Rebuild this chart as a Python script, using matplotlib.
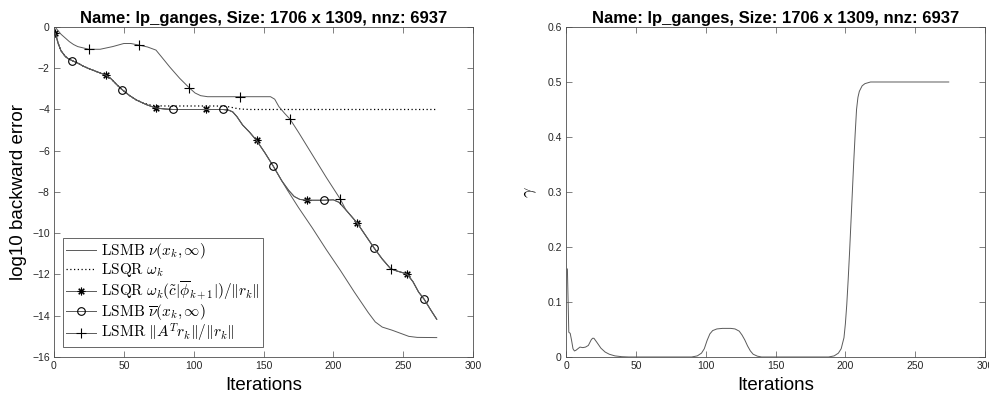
import numpy as np
import matplotlib
matplotlib.use("Agg")
import matplotlib.pyplot as plt

plt.rcParams['font.family'] = ['Liberation Sans', 'DejaVu Sans']
plt.rcParams['mathtext.fontset'] = 'cm'

title = "Name: lp_ganges, Size: 1706 x 1309, nnz: 6937"

# ---- left panel: backward errors (log10) ----
# LSQR omega_k*(c|phi|)/||r|| and LSMB nu-bar share this curve
it_b = [1, 3, 5, 8, 10, 13, 17, 21, 25, 30, 37, 41, 45, 49, 54, 59, 66, 73, 80, 85,
        109, 121, 125, 128, 131, 135, 140, 145, 151, 157, 163, 168, 172, 176, 181,
        193, 200, 204, 209, 217, 223, 229, 235, 241, 245, 250, 253, 257, 261, 265,
        270, 274]
val_b = [-0.3, -0.8, -1.15, -1.42, -1.53, -1.63, -1.75, -1.9, -2.02, -2.15, -2.33,
         -2.52, -2.8, -3.05, -3.32, -3.54, -3.76, -3.93, -3.98, -4.0,
         -4.0, -4.0, -4.03, -4.12, -4.35, -4.75, -5.1, -5.5, -6.1, -6.75, -7.45,
         -7.92, -8.22, -8.36, -8.4,
         -8.4, -8.38, -8.5, -8.87, -9.5, -10.1, -10.7, -11.25, -11.72, -11.82,
         -11.92, -12.0, -12.35, -12.85, -13.2, -13.75, -14.17]

# LSMB nu(x_k, inf): same as above until ~167, then keeps falling
it_nu = [1, 3, 5, 8, 10, 13, 17, 21, 25, 30, 37, 41, 45, 49, 54, 59, 66, 73, 80, 85,
         109, 121, 125, 128, 131, 135, 140, 145, 151, 157, 163, 167, 175, 185, 195,
         205, 215, 225, 230, 235, 242, 248, 254, 260, 274]
val_nu = [-0.3, -0.8, -1.15, -1.42, -1.53, -1.63, -1.75, -1.9, -2.02, -2.15, -2.33,
          -2.52, -2.8, -3.05, -3.32, -3.54, -3.76, -3.93, -3.98, -4.0,
          -4.0, -4.0, -4.03, -4.12, -4.35, -4.75, -5.1, -5.5, -6.1, -6.75, -7.45,
          -7.9, -8.75, -9.75, -10.8, -11.8, -12.85, -13.85, -14.3, -14.55, -14.7,
          -14.85, -15.0, -15.05, -15.06]

# LSQR omega_k (dotted)
it_om = [1, 3, 5, 8, 10, 13, 17, 21, 25, 30, 37, 41, 45, 49, 54, 59, 63, 68, 73, 80,
         115, 122, 126, 130, 134, 140, 274]
val_om = [-0.3, -0.8, -1.15, -1.42, -1.53, -1.63, -1.75, -1.9, -2.02, -2.15, -2.33,
          -2.52, -2.8, -3.05, -3.32, -3.54, -3.66, -3.77, -3.82, -3.83,
          -3.83, -3.84, -3.88, -3.94, -3.98, -4.0, -4.0]

# LSMR ||A^T r|| / ||r||
it_lsmr = [1, 5, 11, 14, 17, 25, 33, 42, 50, 55, 61, 67, 73, 77, 83, 90, 97, 101, 105,
           110, 133, 155, 158, 161, 165, 169, 175, 185, 195, 205, 209, 217, 223, 229,
           235, 241, 245, 250, 253, 257, 261, 265, 270, 274]
val_lsmr = [-0.02, -0.35, -0.71, -0.85, -0.95, -1.08, -1.08, -0.95, -0.8, -0.8, -0.88,
            -0.97, -1.12, -1.45, -1.95, -2.49, -2.96, -3.2, -3.33,
            -3.38, -3.38, -3.38, -3.5, -3.86, -4.18, -4.47, -5.1, -6.2, -7.3, -8.35,
            -8.87, -9.5, -10.1, -10.7, -11.25, -11.72, -11.82, -11.92, -12.0, -12.35,
            -12.85, -13.2, -13.75, -14.17]

mark_star = [1, 37, 73, 109, 145, 181, 217, 253]
mark_circ = [13, 49, 85, 121, 157, 193, 229, 265]
mark_plus = [25, 61, 97, 133, 169, 205, 241]

labels = [r'$\mathrm{LSMB}\ \nu(x_k,\infty)$',
          r'$\mathrm{LSQR}\ \omega_k$',
          r'$\mathrm{LSQR}\ \omega_k(\tilde{c}|\overline{\phi}_{k+1}|)/\|r_k\|$',
          r'$\mathrm{LSMB}\ \overline{\nu}(x_k,\infty)$',
          r'$\mathrm{LSMR}\ \|A^Tr_k\|/\|r_k\|$']

# ---- right panel: gamma ----
it_g = [1, 2, 3, 4, 5, 6, 7, 8, 10, 12, 14, 16, 18, 19, 20, 22, 25, 28, 31, 35, 40,
        45, 90, 94, 97, 99, 101, 103, 105, 108, 112, 118, 121, 124, 126, 128, 130,
        132, 134, 137, 140, 188, 192, 195, 197, 199, 200, 201, 202, 203, 204, 205,
        206, 207, 208, 209, 210, 212, 214, 218, 274]
val_g = [0.16, 0.045, 0.043, 0.03, 0.015, 0.011, 0.012, 0.014, 0.018, 0.017, 0.018,
         0.021, 0.031, 0.034, 0.034, 0.027, 0.016, 0.009, 0.005, 0.002, 0.0005,
         0.0, 0.0, 0.002, 0.007, 0.015, 0.03, 0.042, 0.048, 0.051, 0.052, 0.052,
         0.051, 0.047, 0.04, 0.031, 0.02, 0.011, 0.005, 0.0015, 0.0, 0.0, 0.002,
         0.007, 0.015, 0.035, 0.06, 0.095, 0.14, 0.19, 0.245, 0.3, 0.355, 0.405,
         0.45, 0.472, 0.483, 0.493, 0.497, 0.5, 0.5]

line_c = '#5a5a5a'
axis_c = '#4d4d4d'
tick_c = '#262626'


def idx(its, marks):
    return [its.index(m) for m in marks]


def style_axes(ax):
    for s in ax.spines.values():
        s.set_color(axis_c)
        s.set_linewidth(0.6)
    ax.tick_params(direction='in', top=True, right=True, length=4, width=0.5,
                   color=axis_c, labelsize=7.5, labelcolor=tick_c, pad=3)


fig = plt.figure(figsize=(9.89, 3.97), dpi=100)
ax1 = fig.add_axes([0.0546, 0.1008, 0.4237, 0.8312])
ax2 = fig.add_axes([0.5723, 0.1008, 0.4237, 0.8312])

ax1.plot(it_nu, val_nu, color=line_c, lw=0.7, label=labels[0])
ax1.plot(it_om, val_om, color='black', lw=0.9, ls=(0, (1, 2)), label=labels[1])
ax1.plot(it_b, val_b, color=line_c, lw=0.7, marker=(8, 2, 0), ms=5.5,
         mec='black', mew=0.8, markevery=idx(it_b, mark_star), label=labels[2])
ax1.plot(it_b, val_b, color=line_c, lw=0.7, marker='o', ms=5.5, mfc='none',
         mec='black', mew=0.8, markevery=idx(it_b, mark_circ), label=labels[3])
ax1.plot(it_lsmr, val_lsmr, color=line_c, lw=0.7, marker='+', ms=6.5,
         mec='black', mew=0.8, markevery=idx(it_lsmr, mark_plus), label=labels[4])

ax1.set_xlim(0, 300)
ax1.set_ylim(-16, 0)
ax1.set_xticks(np.arange(0, 301, 50))
ax1.set_yticks(np.arange(-16, 1, 2))
style_axes(ax1)
ax1.set_xlabel('Iterations', fontsize=13.5, labelpad=4)
ax1.set_ylabel('log10 backward error', fontsize=13.5, labelpad=4)
ax1.set_title(title, fontsize=12, fontweight='bold', pad=3)
leg = ax1.legend(loc='lower left', bbox_to_anchor=(0.021, 0.029), borderaxespad=0,
                 fontsize=11, handlelength=2.0, handletextpad=0.3,
                 labelspacing=0.0, borderpad=0.2, fancybox=False, framealpha=1,
                 edgecolor=axis_c)
leg.get_frame().set_linewidth(0.6)

ax2.plot(it_g, val_g, color=line_c, lw=0.7)
ax2.set_xlim(0, 300)
ax2.set_ylim(0, 0.6)
ax2.set_xticks(np.arange(0, 301, 50))
ax2.set_yticks(np.arange(0, 0.61, 0.1))
ax2.set_yticklabels(['0', '0.1', '0.2', '0.3', '0.4', '0.5', '0.6'])
style_axes(ax2)
ax2.set_xlabel('Iterations', fontsize=13.5, labelpad=4)
ax2.set_ylabel(r'$\gamma$', fontsize=13, labelpad=6)
ax2.set_title(title, fontsize=12, fontweight='bold', pad=3)

fig.savefig('out.png', dpi=100)
